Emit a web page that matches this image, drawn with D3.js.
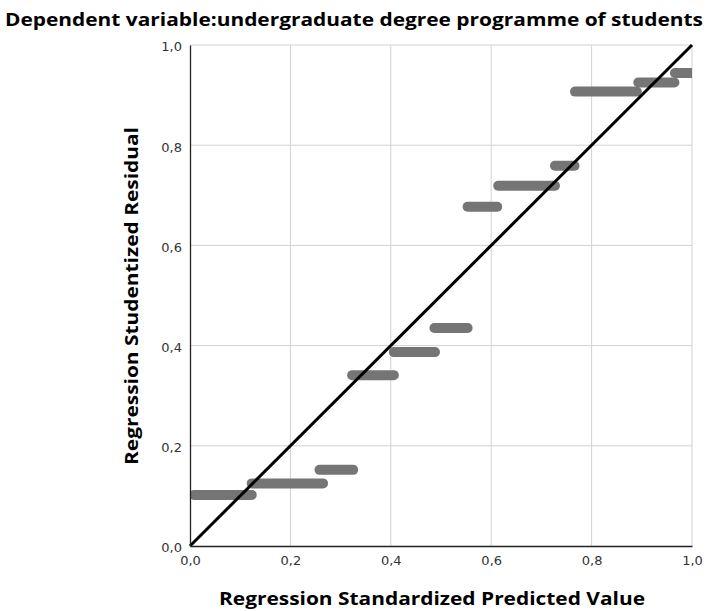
<!DOCTYPE html>
<html>
<head>
<meta charset="utf-8">
<script src="https://cdn.jsdelivr.net/npm/d3@7"></script>
<style>
  body { margin: 0; background: #fff; }
  svg { display: block; }
</style>
</head>
<body>
<div id="chart"></div>
<script>
// P-P plot steps: each run of points drawn as a horizontal segment
const stepStart = [0.008, 0.123, 0.258, 0.323, 0.406, 0.487, 0.553, 0.614, 0.727, 0.767, 0.893, 0.966];
const stepEnd   = [0.123, 0.265, 0.325, 0.406, 0.488, 0.553, 0.612, 0.727, 0.766, 0.890, 0.965, 1.000];
const stepValue = [0.102, 0.125, 0.152, 0.341, 0.387, 0.435, 0.677, 0.719, 0.759, 0.907, 0.925, 0.944];
const tickValues = [0, 0.2, 0.4, 0.6, 0.8, 1.0];

const width = 708, height = 611;
const margin = { top: 45, right: 16, bottom: 65, left: 190 };
const w = width - margin.left - margin.right;
const h = height - margin.top - margin.bottom;
const fmt = (d) => d.toFixed(1).replace(".", ",");

const svg = d3.select("#chart").append("svg")
  .attr("width", width)
  .attr("height", height);

const g = svg.append("g")
  .attr("transform", `translate(${margin.left},${margin.top})`);

const x = d3.scaleLinear().domain([0, 1]).range([0, w]);
const y = d3.scaleLinear().domain([0, 1]).range([h, 0]);

// grid
g.append("g").selectAll("line").data(tickValues.slice(1)).enter().append("line")
  .attr("x1", (d) => x(d)).attr("x2", (d) => x(d))
  .attr("y1", 0).attr("y2", h)
  .attr("stroke", "#d2d2d2").attr("stroke-width", 1);
g.append("g").selectAll("line").data(tickValues.slice(1)).enter().append("line")
  .attr("x1", 0).attr("x2", w)
  .attr("y1", (d) => y(d)).attr("y2", (d) => y(d))
  .attr("stroke", "#d2d2d2").attr("stroke-width", 1);

g.append("clipPath").attr("id", "clip")
  .append("rect").attr("width", w).attr("height", h);

// steps
g.append("g").attr("clip-path", "url(#clip)")
  .selectAll("line").data(stepValue).enter().append("line")
  .attr("x1", (d, i) => x(stepStart[i]))
  .attr("x2", (d, i) => x(stepEnd[i]))
  .attr("y1", (d) => y(d)).attr("y2", (d) => y(d))
  .attr("stroke", "#757575")
  .attr("stroke-width", 10)
  .attr("stroke-linecap", "round");

// reference diagonal
g.append("line")
  .attr("x1", x(0)).attr("y1", y(0))
  .attr("x2", x(1)).attr("y2", y(1))
  .attr("stroke", "#000").attr("stroke-width", 3);

// axes
const xAxis = g.append("g").attr("transform", `translate(0,${h})`)
  .call(d3.axisBottom(x).tickValues(tickValues).tickFormat(fmt).tickSize(0).tickPadding(10));
const yAxis = g.append("g")
  .call(d3.axisLeft(y).tickValues(tickValues).tickFormat(fmt).tickSize(0).tickPadding(8));
[xAxis, yAxis].forEach((a) => {
  a.select(".domain").attr("stroke", "#222").attr("stroke-width", 1.3);
  a.selectAll("text").attr("font-family", "DejaVu Sans").attr("font-size", 13).attr("fill", "#333");
});
yAxis.selectAll("text").attr("dy", "0.45em");

// titles
svg.append("text")
  .attr("x", width / 2).attr("y", 26)
  .attr("text-anchor", "middle")
  .attr("font-family", "Open Sans").attr("font-weight", "bold").attr("font-size", 17)
  .attr("textLength", 698).attr("lengthAdjust", "spacingAndGlyphs")
  .text("Dependent variable:undergraduate degree programme of students");

svg.append("text")
  .attr("x", margin.left + w / 2 - 9).attr("y", 605)
  .attr("text-anchor", "middle")
  .attr("font-family", "Open Sans").attr("font-weight", "bold").attr("font-size", 17)
  .attr("textLength", 426).attr("lengthAdjust", "spacingAndGlyphs")
  .text("Regression Standardized Predicted Value");

svg.append("text")
  .attr("transform", `translate(138,${296}) rotate(-90)`)
  .attr("text-anchor", "middle")
  .attr("font-family", "Open Sans").attr("font-weight", "bold").attr("font-size", 17)
  .attr("textLength", 338).attr("lengthAdjust", "spacingAndGlyphs")
  .text("Regression Studentized Residual");
</script>
</body>
</html>
